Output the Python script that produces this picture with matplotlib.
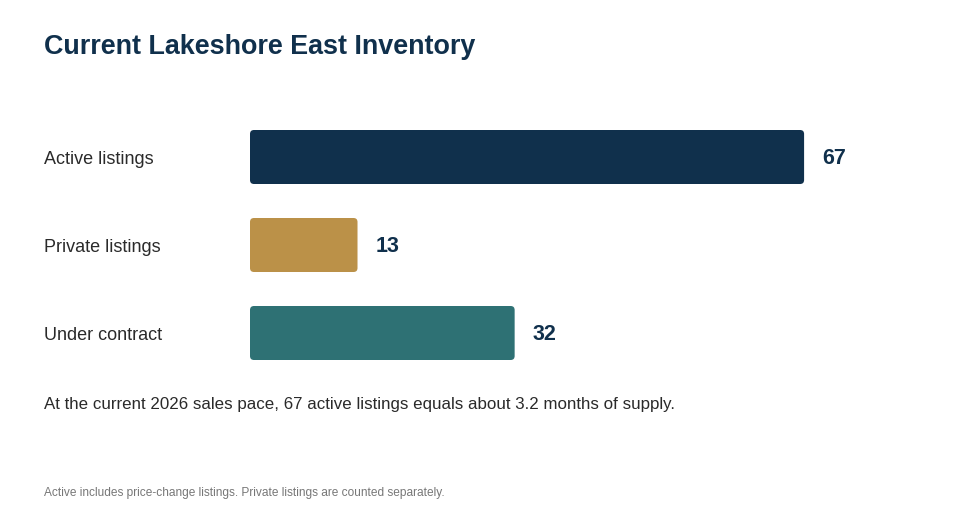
import matplotlib
matplotlib.use("Agg")
import matplotlib.pyplot as plt
from matplotlib.patches import FancyBboxPatch
from matplotlib.transforms import blended_transform_factory

plt.rcParams['font.family'] = ['Liberation Sans', 'DejaVu Sans']

title = "Current Lakeshore East Inventory"
categories = ["Active listings", "Private listings", "Under contract"]
values = [67, 13, 32]
colors = ["#10304c", "#bb9148", "#2e7174"]
note = "At the current 2026 sales pace, 67 active listings equals about 3.2 months of supply."
footnote = "Active includes price-change listings. Private listings are counted separately."

W, H = 980, 520
fig = plt.figure(figsize=(W / 100, H / 100), dpi=100)
fig.patch.set_facecolor("white")

px_per_unit = 8.27
ax_left_px, ax_w_px = 250, 700
ax_top_px, ax_h_px = 113, 264
ax = fig.add_axes([ax_left_px / W, (H - ax_top_px - ax_h_px) / H, ax_w_px / W, ax_h_px / H])
ax.set_xlim(0, ax_w_px / px_per_unit)
ax.set_ylim(len(categories) - 0.5, -0.5)
ax.axis("off")

xpp = (ax_w_px / px_per_unit) / ax_w_px
ypp = len(categories) / ax_h_px
bar_h = 54 * ypp
r_px = 4

for i, (v, c) in enumerate(zip(values, colors)):
    p = FancyBboxPatch((0, i - bar_h / 2), v, bar_h,
                       boxstyle=f"round,pad=0,rounding_size={r_px * xpp}",
                       mutation_aspect=ypp / xpp,
                       facecolor=c, edgecolor="none")
    ax.add_patch(p)
    ax.annotate(str(v), (v, i), xytext=(18, -1), textcoords="offset pixels",
                ha="left", va="center", fontsize=15.5, fontweight="bold", color="#10304c")

tr = blended_transform_factory(fig.transFigure, ax.transData)
for i, cat in enumerate(categories):
    fig.text(44 / W, i + 2 * ypp, cat, transform=tr, ha="left", va="center", fontsize=13, color="#2a2a2a")

fig.text(44 / W, 1 - 47 / H, title, ha="left", va="center", fontsize=19.4, fontweight="bold", color="#10304c")
fig.text(44 / W, 1 - 405 / H, note, ha="left", va="center", fontsize=12.2, color="#2a2a2a")
fig.text(44 / W, 1 - 493 / H, footnote, ha="left", va="center", fontsize=8.55, color="#777777")

fig.savefig("out.png", dpi=100, facecolor="white")
